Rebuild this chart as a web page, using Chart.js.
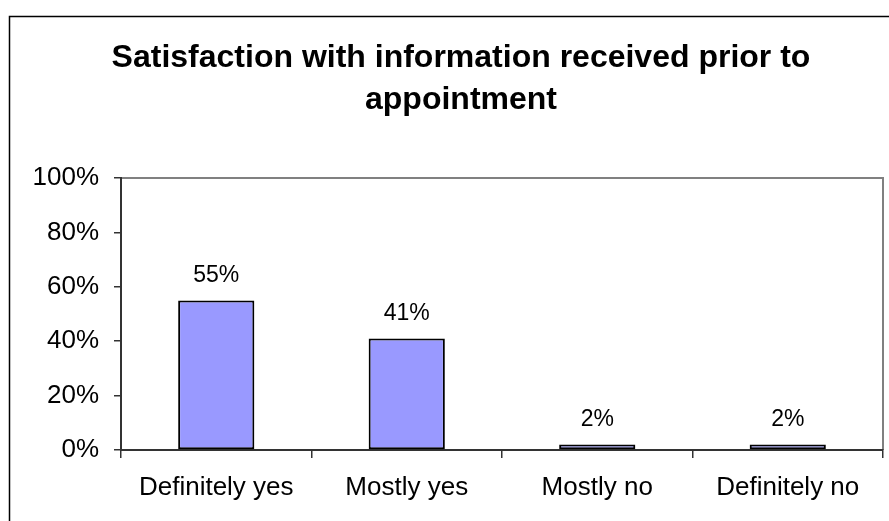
<!DOCTYPE html>
<html>
<head>
<meta charset="utf-8">
<script src="https://cdn.jsdelivr.net/npm/chart.js@4/dist/chart.umd.min.js"></script>
<style>
  html, body { margin: 0; padding: 0; background: #fff; }
  #wrap { width: 889px; height: 521px; }
</style>
</head>
<body>
<div id="wrap"><canvas id="c" width="889" height="521"></canvas></div>
<script>
const titleLines = ['Satisfaction with information received prior to', 'appointment'];
const categories = ['Definitely yes', 'Mostly yes', 'Mostly no', 'Definitely no'];
const values = [55, 41, 2, 2];
const yTicks = [0, 20, 40, 60, 80, 100];

const FONT = "Arial, 'Liberation Sans', Helvetica, sans-serif";

const frame = {
  id: 'frame',
  afterLayout(chart) {
    // centre the title a little right of the canvas centre, as in the reference
    const t = chart.titleBlock;
    if (t) { t.left = 39; t.right = chart.width - 6; }
  },
  beforeDraw(chart) {
    const ctx = chart.ctx;
    ctx.save();
    ctx.fillStyle = '#fff';
    ctx.fillRect(0, 0, chart.width, chart.height);
    ctx.strokeStyle = '#000';
    ctx.lineWidth = 1.5;
    ctx.strokeRect(9.5, 16.5, 1200, 1200);
    const a = chart.chartArea;
    ctx.strokeStyle = '#808080';
    ctx.lineWidth = 2;
    ctx.beginPath();
    ctx.moveTo(a.left, a.top);
    ctx.lineTo(a.right, a.top);
    ctx.lineTo(a.right, a.bottom);
    ctx.stroke();
    ctx.restore();
  }
};

const dataLabels = {
  id: 'dataLabels',
  afterDatasetsDraw(chart) {
    const ctx = chart.ctx;
    const meta = chart.getDatasetMeta(0);
    ctx.save();
    ctx.font = '23px ' + FONT;
    ctx.fillStyle = '#000';
    ctx.textAlign = 'center';
    ctx.textBaseline = 'middle';
    meta.data.forEach((bar, i) => {
      ctx.fillText(values[i] + '%', bar.x, bar.y - 25);
    });
    ctx.restore();
  }
};

new Chart(document.getElementById('c'), {
  type: 'bar',
  data: {
    labels: categories,
    datasets: [{
      data: values,
      backgroundColor: '#9999FF',
      borderColor: '#000',
      borderWidth: 2,
      borderSkipped: false,
      barPercentage: 0.4,
      categoryPercentage: 1.0
    }]
  },
  options: {
    responsive: false,
    animation: false,
    layout: { padding: { left: 0, right: 6, top: 0, bottom: 0 } },
    plugins: {
      legend: { display: false },
      tooltip: { enabled: false },
      title: {
        display: true,
        text: titleLines,
        color: '#000',
        font: { family: FONT, size: 32, weight: 'bold', lineHeight: 42 / 32 },
        padding: { top: 37, bottom: 57 }
      }
    },
    scales: {
      x: {
        grid: { display: true, drawOnChartArea: false, drawTicks: true, tickLength: 8, color: '#333', lineWidth: 1.5, offset: true },
        border: { display: true, color: '#333', width: 2 },
        ticks: { color: '#000', font: { family: FONT, size: 26 }, padding: 14, maxRotation: 0, autoSkip: false },
        afterFit(scale) { scale.height = 71; }
      },
      y: {
        min: 0,
        max: 100,
        afterBuildTicks(scale) { scale.ticks = yTicks.map(v => ({ value: v })); },
        grid: { display: true, drawOnChartArea: false, drawTicks: true, tickLength: 7, color: '#333', lineWidth: 1.5 },
        border: { display: true, color: '#333', width: 2 },
        ticks: { color: '#000', font: { family: FONT, size: 26 }, padding: 15, callback: v => v + '%' },
        afterFit(scale) { scale.width = 121; }
      }
    }
  },
  plugins: [frame, dataLabels]
});
</script>
</body>
</html>
